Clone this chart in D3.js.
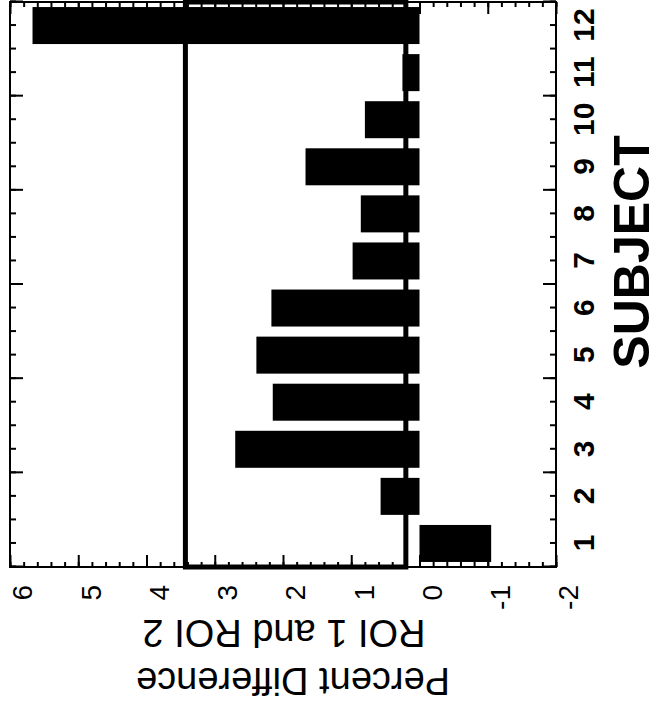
<!DOCTYPE html>
<html lang="en">

<head>
  <meta charset="utf-8">
  <title>Percent Difference ROI 1 and ROI 2</title>
  <script src="https://d3js.org/d3.v7.min.js"></script>
  <style>
    body { margin: 0; background: #fff; }
    svg { display: block; }
    text {
      font-family: "Liberation Sans", Arial, Helvetica, sans-serif;
      fill: #000;
    }
    .valor text { font-size: 28px; }
    .sujeito text { font-size: 30px; font-weight: bold; }
    .titulo { font-size: 38px; }
    .titulo-x { font-size: 50px; font-weight: bold; }
    .tick line { stroke: #000; stroke-width: 2; }
    .domain { display: none; }
  </style>
</head>

<body>
  <svg width="662" height="711"></svg>

  <script>
    // dados
    var subjects = [1, 2, 3, 4, 5, 6, 7, 8, 9, 10, 11, 12];
    var percentDiff = [-1.05, 0.57, 2.70, 2.15, 2.39, 2.17, 0.98, 0.86, 1.67, 0.80, 0.25, 5.67];
    var valueTicks = [6, 5, 4, 3, 2, 1, 0, -1, -2];
    var bandLimits = [0.2, 3.43];

    var svg = d3.select("svg");
    // o grafico e desenhado "em pe" num quadro 711 x 662 e depois girado 90 graus
    var W = 711;
    var g = svg.append("g").attr("transform", "translate(0," + W + ") rotate(-90)");

    var x = d3.scaleLinear().domain([0.5, 12.5]).range([144, 709]);
    var y = d3.scaleLinear().domain([-2, 6]).range([556, 10]);
    var barW = 37;

    var minorV = d3.range(-10, 31).map(i => i / 5);
    var minorS = d3.range(1, 26).map(i => i / 2);
    var majorS = d3.range(0, 7).map(i => 0.5 + 2 * i);

    // faixa de referencia
    g.append("rect")
      .attr("x", x(0.5))
      .attr("y", y(bandLimits[1]))
      .attr("width", x(12.5) - x(0.5))
      .attr("height", y(bandLimits[0]) - y(bandLimits[1]))
      .attr("fill", "none")
      .attr("stroke", "#000")
      .attr("stroke-width", 5);

    // barras
    g.selectAll(".bar")
      .data(subjects)
      .enter()
      .append("rect")
        .attr("class", "bar")
        .attr("x", (d, i) => x(d) - barW / 2)
        .attr("y", (d, i) => y(Math.max(0, percentDiff[i])))
        .attr("width", barW)
        .attr("height", (d, i) => Math.abs(y(percentDiff[i]) - y(0)))
        .attr("fill", "#000");

    // eixo de valores (esquerda) e espelho (direita)
    g.append("g").attr("transform", "translate(" + x(0.5) + ",0)")
      .call(d3.axisLeft(y).tickValues(minorV).tickSize(-5).tickFormat(""));
    var eixoV = g.append("g").attr("class", "valor").attr("transform", "translate(" + x(0.5) + ",0)")
      .call(d3.axisLeft(y).tickValues(valueTicks).tickSize(-12).tickPadding(18).tickFormat(d => String(d)));
    eixoV.selectAll("text").attr("y", 13).attr("fill", "#000");
    g.append("g").attr("transform", "translate(" + x(12.5) + ",0)")
      .call(d3.axisRight(y).tickValues(minorV).tickSize(-5).tickFormat(""));
    g.append("g").attr("transform", "translate(" + x(12.5) + ",0)")
      .call(d3.axisRight(y).tickValues(valueTicks).tickSize(-12).tickFormat(""));

    // eixo dos sujeitos (embaixo) e espelho (em cima)
    g.append("g").attr("transform", "translate(0," + y(-2) + ")")
      .call(d3.axisBottom(x).tickValues(minorS).tickSize(-6).tickFormat(""));
    g.append("g").attr("transform", "translate(0," + y(-2) + ")")
      .call(d3.axisBottom(x).tickValues(majorS).tickSize(-13).tickFormat(""));
    g.append("g").attr("class", "sujeito").attr("transform", "translate(0," + y(-2) + ")")
      .call(d3.axisBottom(x).tickValues(subjects).tickSize(0).tickPadding(17).tickFormat(d => String(d)))
      .selectAll("text").attr("fill", "#000");
    g.append("g").attr("transform", "translate(0," + y(6) + ")")
      .call(d3.axisTop(x).tickValues(minorS).tickSize(-6).tickFormat(""));
    g.append("g").attr("transform", "translate(0," + y(6) + ")")
      .call(d3.axisTop(x).tickValues(majorS).tickSize(-13).tickFormat(""));

    // moldura
    g.append("rect")
      .attr("x", x(0.5))
      .attr("y", y(6))
      .attr("width", x(12.5) - x(0.5))
      .attr("height", y(-2) - y(6))
      .attr("fill", "none")
      .attr("stroke", "#000")
      .attr("stroke-width", 2);

    // titulos
    g.append("text")
      .attr("class", "titulo-x")
      .attr("x", 459)
      .attr("y", 649)
      .attr("text-anchor", "middle")
      .text("SUBJECT");
    g.append("text")
      .attr("class", "titulo")
      .attr("transform", "translate(43,293) rotate(-90)")
      .attr("text-anchor", "middle")
      .text("Percent Difference");
    g.append("text")
      .attr("class", "titulo")
      .attr("transform", "translate(91,284) rotate(-90)")
      .attr("text-anchor", "middle")
      .text("ROI 1 and ROI 2");
  </script>
</body>

</html>
